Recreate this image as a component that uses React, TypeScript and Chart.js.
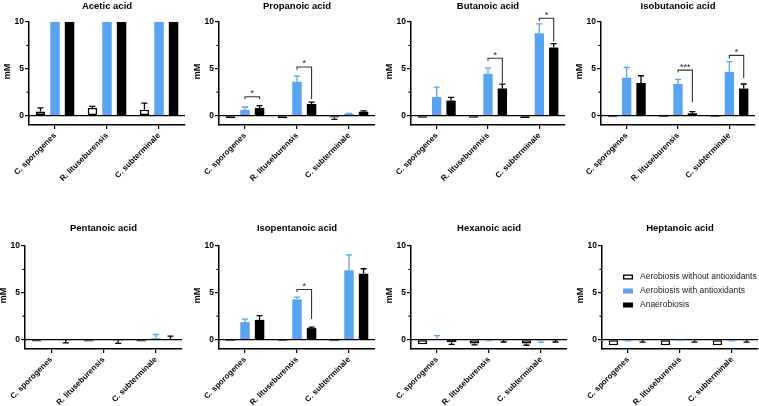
import React, { useEffect, useRef } from "react";
import { Chart, registerables } from "chart.js";
Chart.register(...registerables);

// ---------- DATA ----------
const categories = ["C. sporogenes", "R. lituseburensis", "C. subterminale"];
const seriesNames = ["Aerobiosis without antioxidants", "Aerobiosis with antioxidants", "Anaerobiosis"];
const panelTitles = ["Acetic acid", "Propanoic acid", "Butanoic acid", "Isobutanoic acid", "Pentanoic acid", "Isopentanoic acid", "Hexanoic acid", "Heptanoic acid"];
const yAxisTitle = "mM";
const yMin = -1;
const yMax = 10;
const yMajorTicks = [0, 5, 10];
const yMinorTicks = [2.5, 7.5];

// rows: [without antioxidants, with antioxidants, anaerobiosis]; columns: categories
const aceticMean = [[0.43, 0.82, 0.64], [10, 10, 10], [10, 10, 10]];
const aceticErr = [[0.4, 0.17, 0.7], [0, 0, 0], [0, 0, 0]];
const propanoicMean = [[-0.28, -0.28, -0.2], [0.6, 3.62, 0.2], [0.82, 1.24, 0.42]];
const propanoicErr = [[0, 0, 0.2], [0.32, 0.6, 0.05], [0.24, 0.21, 0.08]];
const butanoicMean = [[-0.22, -0.22, -0.24], [1.99, 4.47, 8.79], [1.6, 2.9, 7.27]];
const butanoicErr = [[0, 0, 0], [1.06, 0.6, 1.0], [0.35, 0.47, 0.43]];
const isobutanoicMean = [[-0.18, -0.18, -0.15], [4.05, 3.38, 4.68], [3.49, 0.25, 2.89]];
const isobutanoicErr = [[0, 0, 0], [1.09, 0.49, 1.09], [0.77, 0.17, 0.49]];
const pentanoicMean = [[-0.2, -0.2, -0.2], [0.05, 0.05, 0.15], [-0.05, -0.1, 0.03]];
const pentanoicErr = [[0, 0, 0], [0, 0, 0.4], [0.3, 0.3, 0.35]];
const isopentanoicMean = [[-0.15, -0.15, -0.18], [1.87, 4.3, 7.4], [2.11, 1.23, 7.04]];
const isopentanoicErr = [[0, 0, 0], [0.33, 0.24, 1.65], [0.46, 0.11, 0.53]];
const hexanoicMean = [[-0.5, -0.42, -0.42], [0.02, -0.06, -0.1], [-0.25, -0.05, -0.05]];
const hexanoicErr = [[0, 0.14, 0.18], [0.4, 0.05, 0.2], [0.25, 0.2, 0.2]];
const heptanoicMean = [[-0.6, -0.6, -0.6], [-0.1, -0.05, -0.1], [-0.06, -0.06, -0.06]];
const heptanoicErr = [[0, 0, 0], [0.04, 0.02, 0.04], [0.2, 0.2, 0.2]];

// significance brackets: [category index, bracket level, left leg end, right leg end, label]
const propanoicSig = [[0, 2.02, 1.75, 1.75, "*"], [1, 5.2, 4.9, 1.75, "*"]];
const butanoicSig = [[1, 6.13, 5.85, 3.5, "*"], [2, 10.4, 10.1, 7.9, "*"]];
const isobutanoicSig = [[1, 4.86, 4.6, 1.44, "***"], [2, 6.44, 6.1, 4.0, "*"]];
const isopentanoicSig = [[1, 5.35, 5.1, 2.2, "*"]];

const panelMeans = [aceticMean, propanoicMean, butanoicMean, isobutanoicMean, pentanoicMean, isopentanoicMean, hexanoicMean, heptanoicMean];
const panelErrs = [aceticErr, propanoicErr, butanoicErr, isobutanoicErr, pentanoicErr, isopentanoicErr, hexanoicErr, heptanoicErr];
const panelSigs = [[], propanoicSig, butanoicSig, isobutanoicSig, [], isopentanoicSig, [], []];

// ---------- LAYOUT / STYLE ----------
const FONT = "'Liberation Sans', Arial, Helvetica, sans-serif";
const BLUE = "#58A4F4";
const FILLS = ["#ffffff", BLUE, "#000000"];
const ERR_COLORS = ["#000000", BLUE, "#000000"];
const LAYOUT = [
  { x: 0, y: 0, w: 190, h: 200, l: 29, r: 185, t: 22, b: 125, ty: 6 },
  { x: 190, y: 0, w: 190, h: 200, l: 29, r: 185, t: 22, b: 125, ty: 6 },
  { x: 380, y: 0, w: 190, h: 200, l: 31, r: 185, t: 22, b: 125, ty: 6 },
  { x: 570, y: 0, w: 189, h: 200, l: 31, r: 185, t: 22, b: 125, ty: 6 },
  { x: 0, y: 200, w: 190, h: 206, l: 25, r: 182, t: 46, b: 149, ty: 28 },
  { x: 190, y: 200, w: 190, h: 206, l: 29, r: 185, t: 46, b: 149, ty: 28 },
  { x: 380, y: 200, w: 190, h: 206, l: 31, r: 187, t: 46, b: 149, ty: 28 },
  { x: 570, y: 200, w: 189, h: 206, l: 32, r: 188, t: 46, b: 149, ty: 28 },
];

function Panel({ idx }: { idx: number }) {
  const ref = useRef<HTMLCanvasElement | null>(null);
  const L = LAYOUT[idx];
  useEffect(() => {
    if (!ref.current) return;
    const means = panelMeans[idx];
    const errs = panelErrs[idx];
    const sigs = panelSigs[idx];

    const overlay = {
      id: "overlay" + idx,
      afterDatasetsDraw(chart: any) {
        const ctx = chart.ctx;
        const ys = chart.scales.y;
        const area = chart.chartArea;
        ctx.save();
        // zero line
        const y0 = ys.getPixelForValue(0);
        ctx.strokeStyle = "#000";
        ctx.lineWidth = 1.4;
        ctx.beginPath();
        ctx.moveTo(area.left, y0);
        ctx.lineTo(area.right, y0);
        ctx.stroke();
        // error bars
        for (let s = 0; s < 3; s++) {
          const meta = chart.getDatasetMeta(s);
          meta.data.forEach((el: any, i: number) => {
            const v = means[s][i];
            const e = errs[s][i];
            if (!e) return;
            const dir = v < 0 ? -1 : 1;
            const p1 = ys.getPixelForValue(v);
            const p2 = ys.getPixelForValue(v + dir * e);
            ctx.strokeStyle = ERR_COLORS[s];
            ctx.lineWidth = 1.3;
            ctx.beginPath();
            ctx.moveTo(el.x, p1);
            ctx.lineTo(el.x, p2);
            ctx.moveTo(el.x - 3, p2);
            ctx.lineTo(el.x + 3, p2);
            ctx.stroke();
          });
        }
        // significance brackets
        sigs.forEach((sg: any) => {
          const [c, lvl, le, re, lab] = sg;
          const xa = chart.getDatasetMeta(1).data[c].x;
          const xb = chart.getDatasetMeta(2).data[c].x;
          const py = ys.getPixelForValue(lvl);
          ctx.strokeStyle = "#333";
          ctx.lineWidth = 1.1;
          ctx.beginPath();
          ctx.moveTo(xa, ys.getPixelForValue(le));
          ctx.lineTo(xa, py);
          ctx.lineTo(xb, py);
          ctx.lineTo(xb, ys.getPixelForValue(re));
          ctx.stroke();
          ctx.fillStyle = "#222";
          ctx.font = `9px ${FONT}`;
          ctx.textAlign = "center";
          ctx.textBaseline = "alphabetic";
          ctx.fillText(lab, (xa + xb) / 2, py - 0.5);
        });
        ctx.restore();
      },
      afterDraw(chart: any) {
        const ctx = chart.ctx;
        const ys = chart.scales.y;
        const area = chart.chartArea;
        ctx.save();
        // minor ticks
        ctx.strokeStyle = "#000";
        ctx.lineWidth = 1.2;
        yMinorTicks.forEach((v) => {
          const p = ys.getPixelForValue(v);
          ctx.beginPath();
          ctx.moveTo(area.left - 2.5, p);
          ctx.lineTo(area.left, p);
          ctx.stroke();
        });
        // title
        ctx.fillStyle = "#000";
        ctx.font = `bold 9.5px ${FONT}`;
        ctx.textAlign = "center";
        ctx.textBaseline = "middle";
        ctx.fillText(panelTitles[idx], (area.left + area.right) / 2, L.ty);
        // y title
        ctx.save();
        ctx.translate(area.left - 21, (area.top + area.bottom) / 2 - 2);
        ctx.rotate(-Math.PI / 2);
        ctx.font = `bold 9px ${FONT}`;
        ctx.fillText(yAxisTitle, 0, 0);
        ctx.restore();
        // legend
        if (idx === 7) {
          seriesNames.forEach((name, s) => {
            const cy = 77 + s * 14;
            const bx = 53;
            ctx.fillStyle = FILLS[s];
            ctx.fillRect(bx, cy - 2.5, 10, 5);
            if (s === 0) {
              ctx.strokeStyle = "#000";
              ctx.lineWidth = 1.3;
              ctx.strokeRect(bx + 0.65, cy - 2.5 + 0.65, 10 - 1.3, 5 - 1.3);
            }
            ctx.fillStyle = "#222";
            ctx.font = `8.5px ${FONT}`;
            ctx.textAlign = "left";
            ctx.textBaseline = "middle";
            ctx.fillText(name, 70, cy);
          });
        }
        ctx.restore();
      },
    };

    const chart = new Chart(ref.current, {
      type: "bar",
      data: {
        labels: categories,
        datasets: seriesNames.map((name, s) => ({
          label: name,
          data: means[s],
          backgroundColor: FILLS[s],
          borderColor: "#000",
          borderWidth: s === 0 ? 1.6 : 0,
          borderSkipped: false,
          categoryPercentage: 0.84,
          barPercentage: 0.65,
        })),
      },
      options: {
        responsive: false,
        animation: false,
        events: [],
        layout: { padding: { left: 0, right: L.w - L.r, top: L.t, bottom: 0 } },
        plugins: { legend: { display: false }, title: { display: false }, tooltip: { enabled: false } },
        scales: {
          x: {
            type: "category",
            offset: true,
            grid: { offset: false, drawOnChartArea: false, drawTicks: true, tickLength: 4, color: "#000", lineWidth: 1.2 },
            border: { display: true, color: "#000", width: 1.5 },
            ticks: { minRotation: 45, maxRotation: 45, autoSkip: false, color: "#000", padding: 2, font: { family: FONT, size: 8, weight: "bold" } },
            afterFit: (sc: any) => {
              sc.height = L.h - L.b;
              sc.paddingLeft = 0;
              sc.paddingRight = 0;
            },
          },
          y: {
            min: yMin,
            max: yMax,
            afterBuildTicks: (sc: any) => {
              sc.ticks = yMajorTicks.map((v) => ({ value: v }));
            },
            grid: { drawOnChartArea: false, drawTicks: true, tickLength: 4, color: "#000", lineWidth: 1.2 },
            border: { display: true, color: "#000", width: 1.5 },
            ticks: { color: "#000", padding: 1, font: { family: FONT, size: 8.5, weight: "bold" } },
            afterFit: (sc: any) => {
              sc.width = L.l;
              sc.paddingTop = 0;
              sc.paddingBottom = 0;
            },
          },
        },
      } as any,
      plugins: [overlay],
    });
    return () => chart.destroy();
  }, [idx]);
  return (
    <canvas
      ref={ref}
      width={L.w}
      height={L.h}
      style={{ position: "absolute", left: L.x, top: L.y, width: L.w, height: L.h, display: "block" }}
    />
  );
}

export default function App() {
  return (
    <div style={{ position: "fixed", left: 0, top: 0, width: 759, height: 406, background: "#fff" }}>
      {panelTitles.map((_, i) => (
        <Panel key={i} idx={i} />
      ))}
    </div>
  );
}
